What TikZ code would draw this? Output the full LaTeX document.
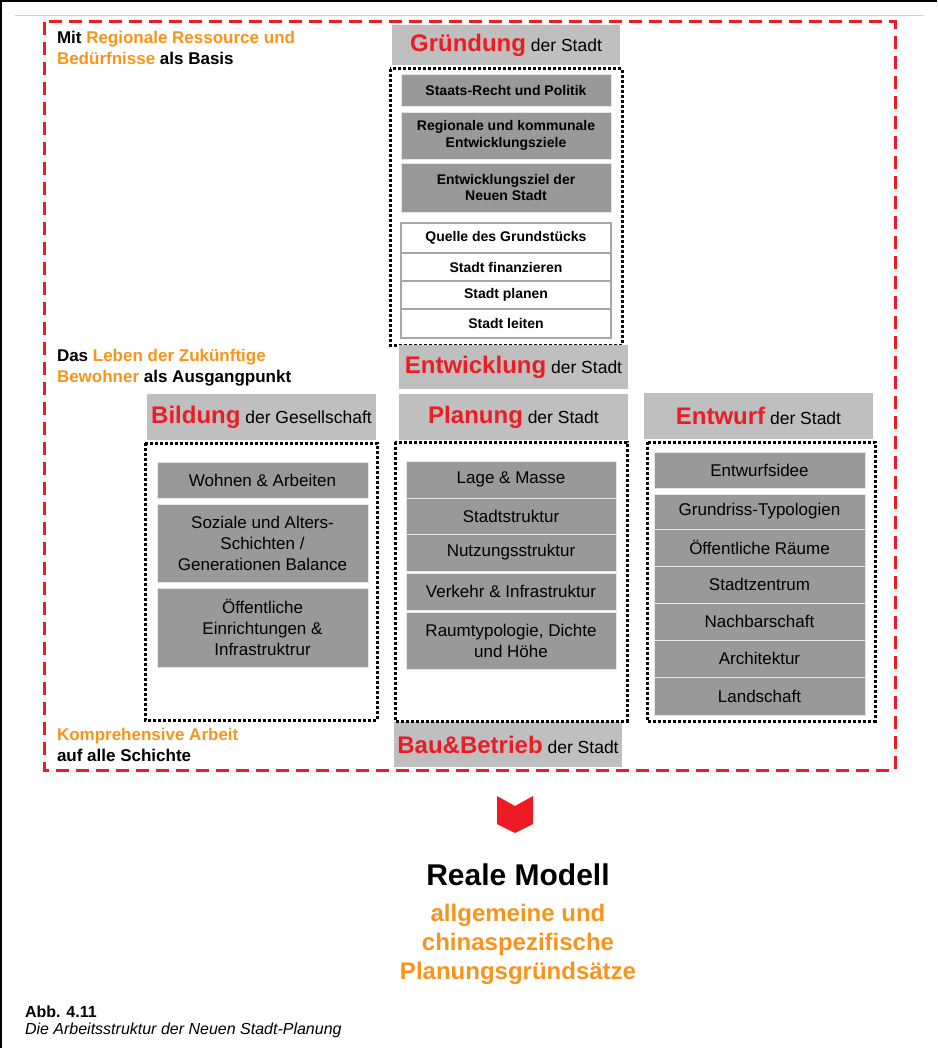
\documentclass[tikz,border=0pt]{standalone}
\usepackage{fontspec}
\setmainfont{Liberation Sans}
\usetikzlibrary{positioning,calc}
\definecolor{accent}{HTML}{ED1C24}
\definecolor{amber}{HTML}{F7941D}
\definecolor{headgray}{HTML}{BFBFBF}
\definecolor{itemgray}{HTML}{999999}
\definecolor{rulegray}{HTML}{A6A6A6}
\newcommand{\hd}[2]{{\color{accent}\bfseries\fontsize{24}{28}\selectfont #1}{\fontsize{17.5}{20}\selectfont\ #2}}

\begin{document}
\begin{tikzpicture}[x=1pt, y=-1pt,
        every node/.style={inner sep=0pt, outer sep=0pt, align=center},
        head/.style={fill=headgray, minimum width=229pt, minimum height=46pt, anchor=north west},
        item/.style={fill=itemgray, draw=white!80!gray, line width=0.8pt, minimum width=210pt, anchor=north, font=\fontsize{17}{21}\selectfont},
        keyitem/.style={item, font=\bfseries\fontsize{14}{16.5}\selectfont},
        plainitem/.style={keyitem, fill=white, draw=rulegray, line width=1.5pt},
        group/.style={draw=black, line width=3pt, dash pattern=on 3pt off 2pt},
        frame/.style={draw=accent, line width=3pt, dash pattern=on 13pt off 7pt},
        note/.style={anchor=north west, align=left, font=\bfseries\fontsize{17}{21}\selectfont}
      ]
        \useasboundingbox (0,0) rectangle (937,1048);
        \draw[line width=2pt] (0,1) -- (937,1);
        \draw[line width=2pt] (1,0) -- (1,1048);
        \draw[gray!35, line width=1pt] (15,16) -- (924,16);
        \draw[frame] (44,22) rectangle (895,770);

        \node[note] (basis) at (57,31) {Mit {\color{amber}Regionale Ressource und}\\{\color{amber}Bedürfnisse} als Basis};
        \node[note] (leben) at (57,349) {Das {\color{amber}Leben der Zukünftige}\\{\color{amber}Bewohner} als Ausgangpunkt};
        \node[note] (arbeit) at (57,728) {{\color{amber}Komprehensive Arbeit}\\auf alle Schichte};

        \node[head, minimum width=228pt, minimum height=40pt] (gruend) at (392,25) {\hd{Gründung}{der Stadt}};
        \draw[group] (390,69) rectangle (622,345);
        \node[keyitem, minimum height=32pt] (staats) at (506,74) {Staats-Recht und Politik};
        \node[keyitem, minimum height=47pt, below=6pt of staats] (regio) {Regionale und kommunale\\Entwicklungsziele};
        \node[keyitem, minimum height=49pt, below=4pt of regio] (ziel) {Entwicklungsziel der\\Neuen Stadt};
        \node[plainitem, minimum height=30pt, below=11pt of ziel] (quelle) {Quelle des Grundstücks};
        \node[plainitem, minimum height=28pt, below=0pt of quelle] (finanz) {Stadt finanzieren};
        \node[plainitem, minimum height=28pt, below=0pt of finanz] (planen) {Stadt planen};
        \node[plainitem, minimum height=29pt, below=0pt of planen] (leiten) {Stadt leiten};

        \node[head, minimum height=44pt] (entw) at (399,345) {\hd{Entwicklung}{der Stadt}};
        \node[head] (plan) at (399,394) {\hd{Planung}{der Stadt}};
        \node[head] (bild) at (147,394) {\hd{Bildung}{der Gesellschaft}};
        \node[head] (entwurf) at (644,393) {\hd{Entwurf}{der Stadt}};
        \node[head, minimum width=228pt, minimum height=45pt] (bau) at (394,722) {\hd{Bau\&Betrieb}{der Stadt}};

        \draw[group] (145,443) rectangle (377,720);
        \node[item, minimum width=211pt, minimum height=36pt] (wohnen) at (262.5,462) {Wohnen \& Arbeiten};
        \node[item, minimum width=211pt, minimum height=78pt, below=6pt of wohnen] (sozial) {Soziale und Alters-\\Schichten /\\Generationen Balance};
        \node[item, minimum width=211pt, minimum height=79pt, below=6pt of sozial] (einr) {Öffentliche\\Einrichtungen \&\\Infrastruktrur};

        \draw[group] (395,442) rectangle (627,721);
        \node[item, minimum height=37pt] (lage) at (511,461) {Lage \& Masse};
        \node[item, minimum height=36pt, below=0pt of lage] (struk) {Stadtstruktur};
        \node[item, minimum height=37pt, below=0pt of struk] (nutz) {Nutzungsstruktur};
        \node[item, minimum height=37pt, below=2pt of nutz] (verk) {Verkehr \& Infrastruktur};
        \node[item, minimum height=57pt, below=2pt of verk] (raum) {Raumtypologie, Dichte\\und Höhe};

        \draw[group] (647,442) rectangle (875,721);
        \node[item, minimum width=211pt, minimum height=36pt] (idee) at (759.5,452) {Entwurfsidee};
        \node[item, minimum width=211pt, minimum height=35pt, below=6pt of idee] (grund) {Grundriss-Typologien};
        \node[item, minimum width=211pt, minimum height=37pt, below=0pt of grund] (raeume) {Öffentliche Räume};
        \node[item, minimum width=211pt, minimum height=37pt, below=0pt of raeume] (zentrum) {Stadtzentrum};
        \node[item, minimum width=211pt, minimum height=37pt, below=0pt of zentrum] (nachbar) {Nachbarschaft};
        \node[item, minimum width=211pt, minimum height=37pt, below=0pt of nachbar] (archi) {Architektur};
        \node[item, minimum width=211pt, minimum height=38pt, below=0pt of archi] (land) {Landschaft};

        \fill[accent] (497,796) -- (515,806) -- (533,796) -- (533,824) -- (515,833) -- (497,824) -- cycle;

        \node[font=\bfseries\fontsize{30}{34}\selectfont] (modell) at (518,875) {Reale Modell};
        \node[font=\bfseries\fontsize{24}{29}\selectfont, text=amber, below=18pt of modell] (saetze) {allgemeine und\\chinaspezifische\\Planungsgründsätze};

        \node[anchor=north west, align=left, font=\fontsize{16}{16.5}\selectfont] (abb) at (25,1006) {\textbf{Abb. 4.11}\\\textit{Die Arbeitsstruktur der Neuen Stadt-Planung}};
      \end{tikzpicture}
\end{document}
